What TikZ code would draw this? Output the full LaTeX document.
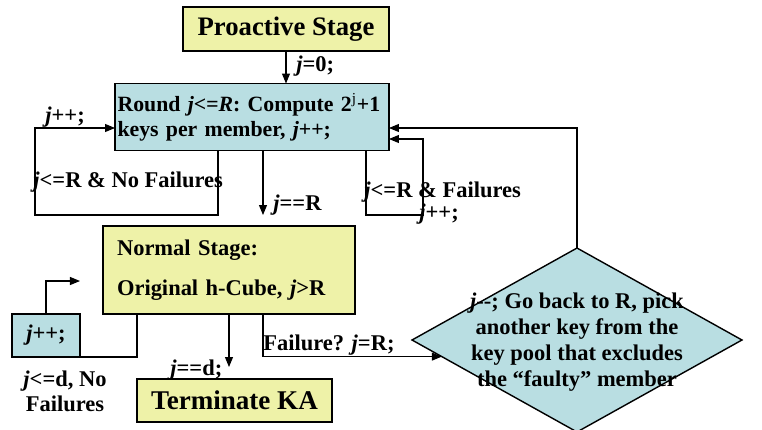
\documentclass[tikz,border=0pt]{standalone}
\usepackage{fontspec}
\setmainfont{Liberation Serif}
\usetikzlibrary{shapes.geometric}
\usetikzlibrary{arrows.meta}
\definecolor{paleyellow}{RGB}{238,242,168}
\definecolor{paleblue}{RGB}{185,222,226}

\begin{document}
\begin{tikzpicture}[x=0.02cm,y=-0.02cm,
  font=\fontsize{12.8}{14.2}\selectfont\bfseries,
  box/.style={draw,line width=0.8pt,inner sep=0pt,outer sep=0pt},
  stage/.style={box,fill=paleyellow},
  roundbox/.style={box,fill=paleblue},
  lbl/.style={inner sep=0pt,anchor=west},
  arr/.style={-{Triangle[length=0.2cm,width=0.16cm]},line width=0.6pt},
  ln/.style={line width=0.6pt}]
\useasboundingbox (0,0) rectangle (762,430);
\node[stage,minimum width=4.12cm,minimum height=0.88cm,font=\fontsize{15.2}{17}\selectfont\bfseries] (pro) at (286,29) {Proactive Stage};
\node[roundbox,minimum width=5.48cm,minimum height=1.34cm,text width=5.38cm,align=left,font=\fontsize{12.4}{14.2}\selectfont\bfseries] (rnd) at (252,117) {Round \textit{j<=R}: Compute 2\textsuperscript{\mdseries j}+1\\keys per member, \textit{j}++;};
\node[stage,minimum width=5.04cm,minimum height=1.76cm,text width=4.48cm,align=left] (norm) at (229,270) {Normal Stage:\\[0.3cm]Original h-Cube, \textit{j}>R};
\node[roundbox,minimum width=1.36cm,minimum height=0.86cm] (inc) at (46,335.5) {\textit{j}++;};
\node[stage,minimum width=3.9cm,minimum height=0.86cm,font=\fontsize{15.4}{17}\selectfont\bfseries] (term) at (234.5,400.5) {Terminate KA};
\node[diamond,box,fill=paleblue,minimum width=6.6cm,minimum height=3.68cm] (dia) at (577,340) {};
\node[align=center,inner sep=0pt,font=\fontsize{12.8}{14.7}\selectfont\bfseries] (diatxt) at (577,342) {\textit{j}-{}-; Go back to R, pick\\another key from the\\key pool that excludes\\the “faulty” member};
\coordinate (lcorner) at (35,215);
\coordinate (rcorner) at (423,215);
% labels on the arrows
\node[lbl] (l0) at (296,66) {\textit{j}=0;};
\node[lbl] (l1) at (45,117) {\textit{j}++;};
\node[lbl] (l2) at (33,182) {\textit{j}<=R \& No Failures};
\node[lbl] (l3) at (273,205) {\textit{j}==R};
\node[lbl] (l4) at (364,192) {\textit{j}<=R \& Failures};
\node[lbl] (l5) at (419,214) {\textit{j}++;};
\node[lbl] (l6) at (170,370) {\textit{j}==d;};
\node[lbl] (l7) at (263,345) {Failure? \textit{j}=R;};
\node[align=center,inner sep=0pt] (l8) at (65,391) {\textit{j}<=d, No\\Failures};
\draw[arr] (pro.south) -- (pro.south |- rnd.north);
\draw[arr] ([xshift=-0.68cm]rnd.south) |- (lcorner) |- ([yshift=-0.22cm]rnd.west); % loop, no failures
\draw[arr,shorten >=0.22cm] ([xshift=0.22cm]rnd.south) -- ([xshift=0.22cm]rnd.south |- norm.north);
\draw[arr] ([xshift=2.28cm]rnd.south) |- (rcorner) |- ([yshift=-0.44cm]rnd.east); % loop, failures
\draw[arr] (dia.north) |- ([yshift=-0.22cm]rnd.east); % back to round
\draw[ln] ([xshift=-1.84cm]norm.south) |- (inc.south east);
\draw[arr] (inc.north) |- ([yshift=0.66cm]inc.north east);
\draw[arr,shorten >=0.24cm] (norm.south) -- (norm.south |- term.north);
\draw[arr] ([xshift=0.68cm]norm.south) |- (dia.187);
\end{tikzpicture}
\end{document}
